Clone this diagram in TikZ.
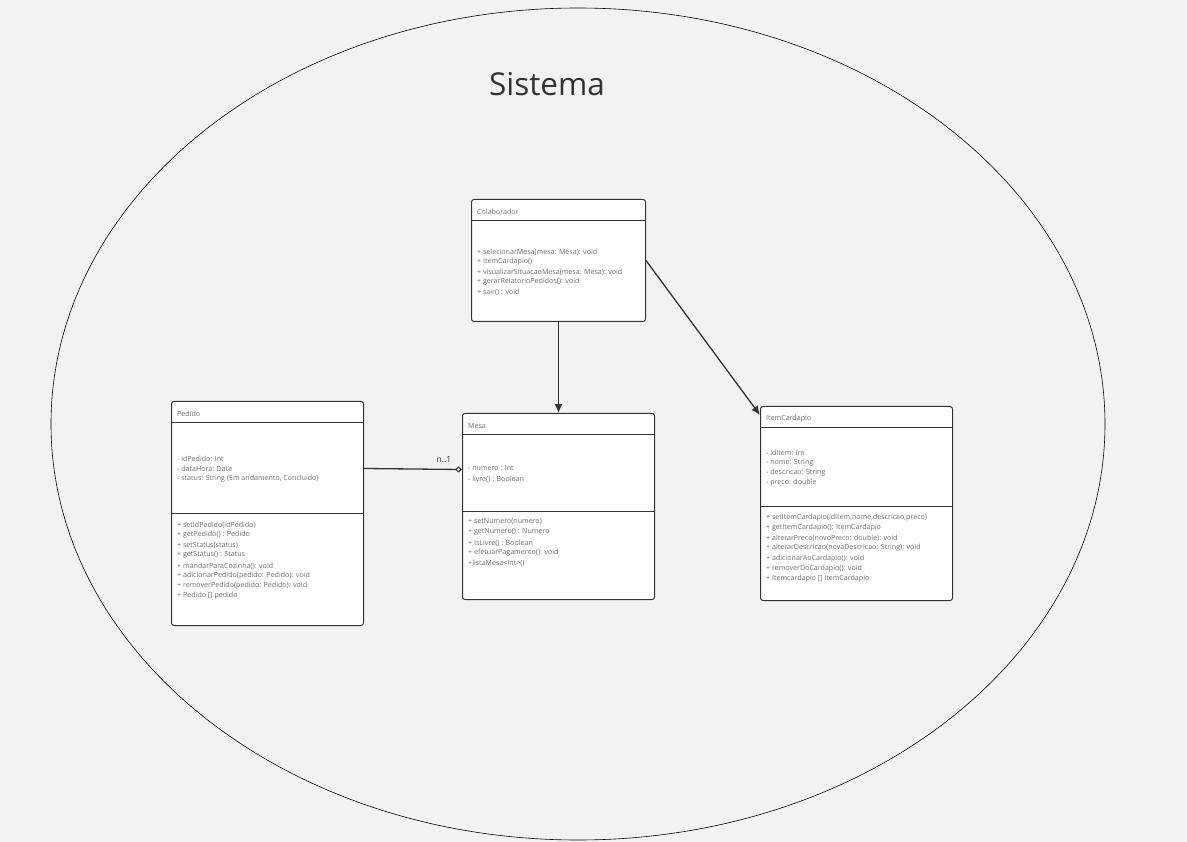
\documentclass[tikz,border=0pt]{standalone}
\usepackage{fontspec}
\setmainfont{Open Sans}
\usetikzlibrary{arrows.meta}
\definecolor{bg}{HTML}{F2F2F2}
\definecolor{edge}{HTML}{333333}
\definecolor{txt}{HTML}{6E6E6E}
\tikzset{
  cls/.style={draw=edge, line width=1pt, fill=white, rounded corners=2.5pt, anchor=north west, inner sep=0pt},
  sep/.style={draw=edge, line width=1pt},
  lbl/.style={anchor=west, inner sep=0pt, yshift=-1pt, text=txt, font=\fontsize{7.1}{8}\selectfont},
  conn/.style={draw=edge, line width=1.3pt},
}
\begin{document}
\begin{tikzpicture}[x=1pt,y=-1pt]
\fill[bg] (0,0) rectangle (1187,842);
\useasboundingbox (0,0) rectangle (1187,842);
\draw[black, line width=0.6pt] (578,424) ellipse [x radius=527, y radius=416];
\node[anchor=center, text=edge, font=\fontsize{31.5}{36}\selectfont] (title) at (547,84) {Sistema};

% Colaborador
\node[cls, minimum width=174pt, minimum height=122pt] (colab) at (471,199) {};
\draw[sep] (471,221) -- (645,221);
\node[lbl] (colabT) at (477,211) {Colaborador};
\node[lbl] (c1) at (477,251) {+ selecionarMesa(mesa: Mesa): void};
\node[lbl] (c2) at (477,261) {+ ItemCardapio()};
\node[lbl] (c3) at (477,271) {+ visualizarSituacaoMesa(mesa: Mesa): void};
\node[lbl] (c4) at (477,281) {+ gerarRelatorioPedidos(): void};
\node[lbl] (c5) at (477,291) {+ sair() : void};

% Pedido
\node[cls, minimum width=192pt, minimum height=224pt] (pedido) at (171,401) {};
\draw[sep] (171,423) -- (363,423);
\draw[sep] (171,513) -- (363,513);
\node[lbl] (pT) at (177,413) {Pedido};
\node[lbl] (pa1) at (177,458) {- idPedido: Int};
\node[lbl] (pa2) at (177,468) {- dataHora: Date};
\node[lbl] (pa3) at (177,478) {- status: String (Em andamento, Concluido)};
\node[lbl] (pm1) at (177,524) {+ setIdPedido(idPedido)};
\node[lbl] (pm2) at (177,534) {+ getPedido() : Pedido};
\node[lbl] (pm3) at (177,544) {+ setStatus(status)};
\node[lbl] (pm4) at (177,554) {+ getStatus() : Status};
\node[lbl] (pm5) at (177,565) {+ mandarParaCozinha(): void};
\node[lbl] (pm6) at (177,575) {+ adicionarPedido(pedido: Pedido): void};
\node[lbl] (pm7) at (177,585) {+ removerPedido(pedido: Pedido): void};
\node[lbl] (pm8) at (177,595) {+ Pedido [] pedido};

% Mesa
\node[cls, minimum width=192pt, minimum height=186pt] (mesa) at (462,413) {};
\draw[sep] (462,435) -- (654,435);
\draw[sep] (462,511) -- (654,511);
\node[lbl] (mT) at (468,425) {Mesa};
\node[lbl] (ma1) at (468,467) {- numero : Int};
\node[lbl] (ma2) at (468,478) {- livre() : Boolean};
\node[lbl] (mm1) at (468,521) {+ setNumero(numero)};
\node[lbl] (mm2) at (468,531) {+ getNumero() : Numero};
\node[lbl] (mm3) at (468,542) {+ IsLivre() : Boolean};
\node[lbl] (mm4) at (468,552) {+ efetuarPagamento(): void};
\node[lbl] (mm5) at (468,562) {+listaMesa<Int>()};

% ItemCardapio
\node[cls, minimum width=192pt, minimum height=194pt] (item) at (760,406) {};
\draw[sep] (760,428) -- (952,428);
\draw[sep] (760,506) -- (952,506);
\node[lbl] (iT) at (766,418) {ItemCardapio};
\node[lbl] (ia1) at (766,452) {- idItem: Int};
\node[lbl] (ia2) at (766,462) {- nome: String};
\node[lbl] (ia3) at (766,472) {- descricao: String};
\node[lbl] (ia4) at (766,482) {- preco: double};
\node[lbl] (im1) at (766,517) {+ setItemCardapio(idItem,nome,descricao,preco)};
\node[lbl] (im2) at (766,527) {+ getItemCardapio(): ItemCardapio};
\node[lbl] (im3) at (766,537) {+ alterarPreco(novoPreco: double): void};
\node[lbl] (im4) at (766,547) {+ alterarDescricao(novaDescricao: String): void};
\node[lbl] (im5) at (766,558) {+ adicionarAoCardapio(): void};
\node[lbl] (im6) at (766,568) {+ removerDoCardapio(): void};
\node[lbl] (im7) at (766,578) {+ Itemcardapio [] ItemCardapio};

% connectors
\draw[conn, -{Latex[length=9pt,width=8pt]}] (colab.south) -- (mesa.north);
\draw[conn, -{Latex[length=9pt,width=8pt]}] (colab.east) -- ([yshift=-9pt]item.north west);
\draw[conn, -{Diamond[open,length=7pt,width=6pt,line width=1pt]}] ([yshift=45pt]pedido.east) -- ([yshift=37pt]mesa.west);
\node[anchor=center, inner sep=0pt, text=edge, font=\fontsize{8.5}{9}\selectfont] (mult) at (444,460) {n..1};
\end{tikzpicture}
\end{document}
